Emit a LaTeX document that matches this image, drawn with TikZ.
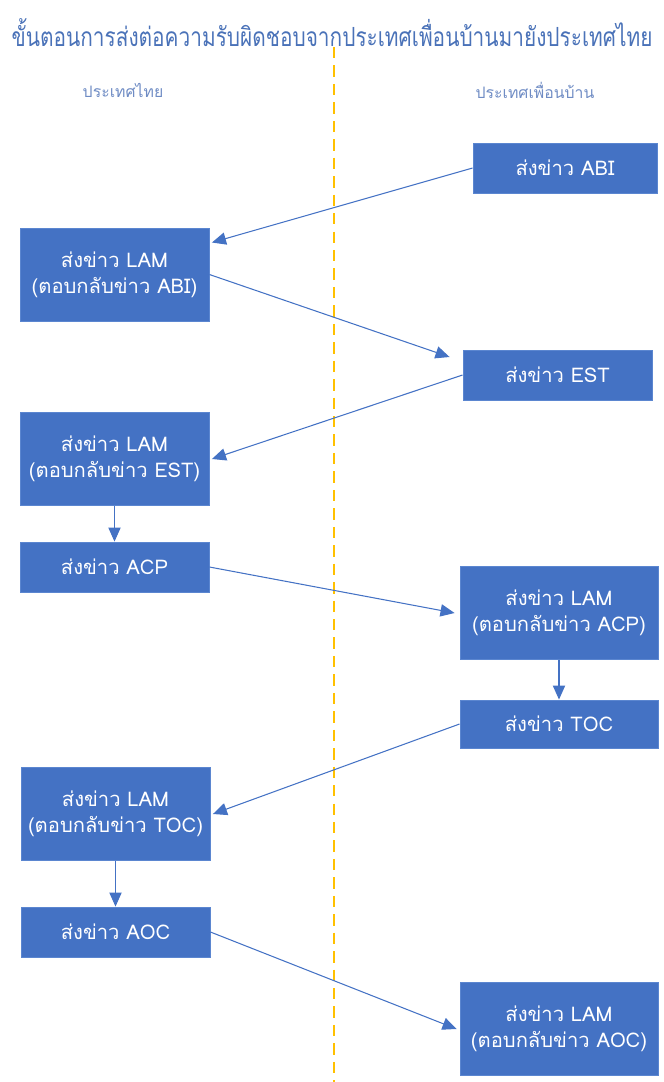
\documentclass[tikz,border=0pt]{standalone}
\usepackage{fontspec}
\setmainfont[Script=Thai]{Loma}
\usepackage{graphicx}
\usepackage{tikz}
\usetikzlibrary{arrows.meta}

\definecolor{boxblue}{HTML}{4472C4}
\definecolor{boxline}{HTML}{5B86D0}
\definecolor{titleblue}{HTML}{4A72B8}
\definecolor{headblue}{HTML}{6F8CC4}
\definecolor{divgold}{HTML}{FFC000}

\begin{document}
\begin{tikzpicture}[
        every node/.style={align=center, font=\fontsize{11.5}{15}\selectfont},
        arrow/.style={-{Triangle[length=8pt, width=7pt]}, line width=0.6pt, draw=boxblue},
        box/.style={rectangle, draw=boxline, line width=0.5pt, fill=boxblue, text=white, inner sep=0pt, minimum width=3.78cm, minimum height=1cm},
        tallbox/.style={box, minimum height=1.86cm}
    ]
        \useasboundingbox (0,0) rectangle (13.28,-21.64);

        % Title and column heads
        \node[text=titleblue, font=\fontsize{15}{18}\selectfont] (title) at (6.64, -0.66) {\scalebox{0.79}[1]{ขั้นตอนการส่งต่อความรับผิดชอบจากประเทศเพื่อนบ้านมายังประเทศไทย}};
        \node[text=headblue, font=\fontsize{9}{11}\selectfont] (thhead) at (2.46, -1.80) {ประเทศไทย};
        \node[text=headblue, font=\fontsize{9}{11}\selectfont] (nbhead) at (10.70, -1.80) {ประเทศเพื่อนบ้าน};

        % Divider
        \coordinate (divtop) at (6.68, -0.94);
        \coordinate (divbot) at (6.68, -21.64);
        \draw[divgold, line width=0.9pt, dash pattern=on 6.5pt off 4pt] (divtop) -- (divbot);

        % Left column (Thailand)
        \node[tallbox] (lamabi) at (2.29, -5.49) {ส่งข่าว LAM\\(ตอบกลับข่าว ABI)};
        \node[tallbox] (lamest) at (2.29, -9.18) {ส่งข่าว LAM\\(ตอบกลับข่าว EST)};
        \node[box] (acp) at (2.29, -11.34) {ส่งข่าว ACP};
        \node[tallbox] (lamtoc) at (2.31, -16.28) {ส่งข่าว LAM\\(ตอบกลับข่าว TOC)};
        \node[box] (aoc) at (2.31, -18.64) {ส่งข่าว AOC};

        % Right column (neighbour country)
        \node[box, minimum width=3.68cm] (abi) at (11.30, -3.36) {ส่งข่าว ABI};
        \node[box] (est) at (11.15, -7.50) {ส่งข่าว EST};
        \node[tallbox, minimum width=3.96cm] (lamacp) at (11.18, -12.26) {ส่งข่าว LAM\\(ตอบกลับข่าว ACP)};
        \node[box, minimum width=3.96cm, minimum height=0.96cm] (toc) at (11.18, -14.48) {ส่งข่าว TOC};
        \node[tallbox, minimum width=3.96cm] (lamaoc) at (11.18, -20.58) {ส่งข่าว LAM\\(ตอบกลับข่าว AOC)};

        % Cross arrows
        \draw[arrow] (abi.west) -- ([xshift=0.05cm, yshift=0.64cm]lamabi.east);
        \draw[arrow] (lamabi.east) -- ([xshift=-0.26cm, yshift=0.36cm]est.west);
        \draw[arrow] (est.west) -- ([xshift=0.05cm]lamest.east);
        \draw[arrow] (acp.east) -- ([xshift=-0.1cm]lamacp.west);
        \draw[arrow] (toc.west) -- ([xshift=0.05cm]lamtoc.east);
        \draw[arrow] (aoc.east) -- ([xshift=-0.06cm]lamaoc.west);

        % Down arrows
        \draw[arrow] (lamest) -- (acp);
        \draw[arrow] (lamacp) -- (toc);
        \draw[arrow] (lamtoc) -- (aoc);
    \end{tikzpicture}
\end{document}
